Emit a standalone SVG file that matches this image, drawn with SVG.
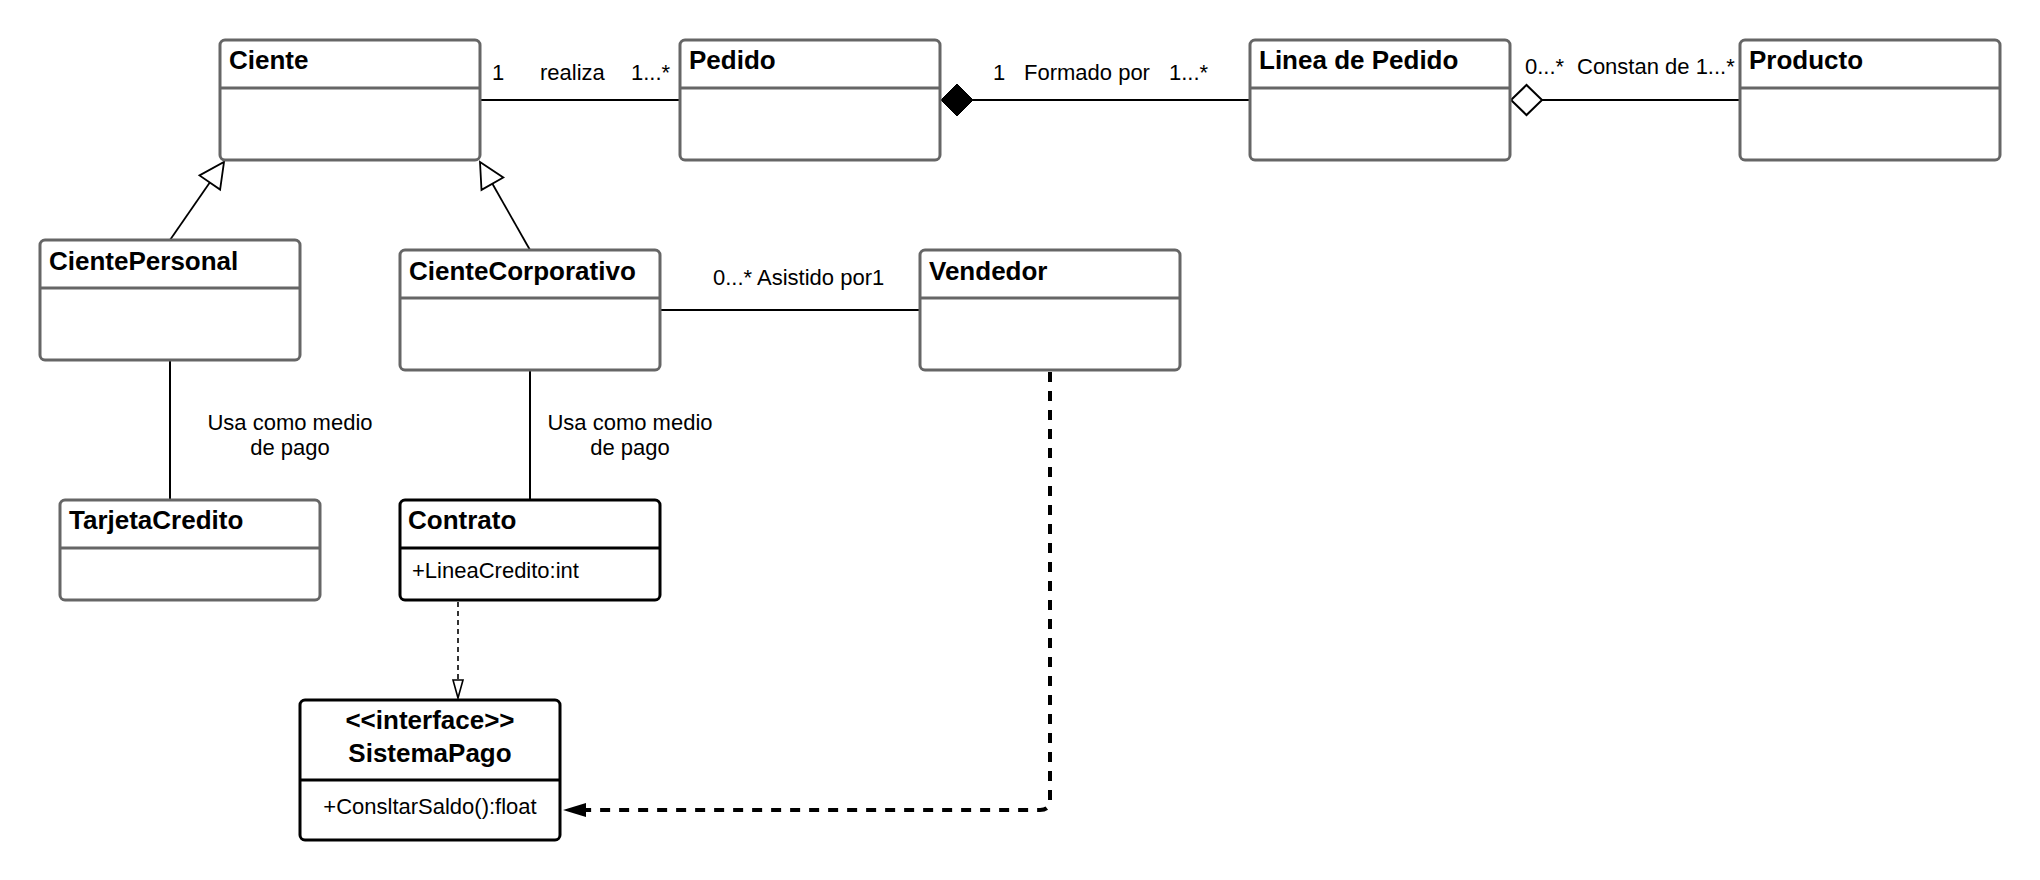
<svg xmlns="http://www.w3.org/2000/svg" width="2040" height="880" viewBox="0 0 2040 880">
<style>
  .box{fill:#ffffff;stroke:#666666;stroke-width:3}
  .div{stroke:#666666;stroke-width:3}
  .boxk{fill:#ffffff;stroke:#000000;stroke-width:3}
  .divk{stroke:#000000;stroke-width:3}
  .title{font-family:"Liberation Sans",Arial,sans-serif;font-size:26px;font-weight:bold;fill:#000}
  .lbl{font-family:"Liberation Sans",Arial,sans-serif;font-size:22px;fill:#000}
  .ln{fill:none;stroke:#000;stroke-width:2}
  .gen{fill:none;stroke:#000;stroke-width:1.8}
  .tri{fill:#fff;stroke:#000;stroke-width:1.8}
</style>
<rect width="2040" height="880" fill="#ffffff"/>

<g id="connectors">
  <!-- Ciente - Pedido -->
  <line class="ln" x1="481" y1="100" x2="679" y2="100"/>
  <text class="lbl" x="492" y="80">1</text>
  <text class="lbl" x="540" y="80">realiza</text>
  <text class="lbl" x="631" y="80">1...*</text>
  <!-- Pedido - Linea (composition) -->
  <line class="ln" x1="973" y1="100" x2="1249" y2="100"/>
  <polygon points="941,100 957,84 973,100 957,116" fill="#000" stroke="#000" stroke-width="1"/>
  <text class="lbl" x="993" y="80">1</text>
  <text class="lbl" x="1024" y="80">Formado por</text>
  <text class="lbl" x="1169" y="80">1...*</text>
  <!-- Linea - Producto (aggregation) -->
  <line class="ln" x1="1542" y1="100" x2="1739" y2="100"/>
  <polygon points="1511,100 1526.5,85 1542,100 1526.5,115" fill="#fff" stroke="#000" stroke-width="2"/>
  <text class="lbl" x="1525" y="74">0...*</text>
  <text class="lbl" x="1577" y="74">Constan de 1...*</text>
  <!-- Generalizations -->
  <line class="gen" x1="170" y1="240" x2="209.8" y2="182.5"/>
  <polygon class="tri" points="224,162 220.1,189.6 199.5,175.4"/>
  <line class="gen" x1="530" y1="250" x2="492.4" y2="183.7"/>
  <polygon class="tri" points="480,162 503.3,177.5 481.5,189.9"/>
  <!-- CienteCorporativo - Vendedor -->
  <line class="ln" x1="661" y1="310" x2="919" y2="310"/>
  <text class="lbl" x="713" y="285">0...* Asistido por1</text>
  <!-- CientePersonal - TarjetaCredito -->
  <line class="ln" x1="170" y1="360" x2="170" y2="500"/>
  <text class="lbl" x="290" y="430" text-anchor="middle">Usa como medio</text>
  <text class="lbl" x="290" y="455" text-anchor="middle">de pago</text>
  <!-- CienteCorporativo - Contrato -->
  <line class="ln" x1="530" y1="370" x2="530" y2="500"/>
  <text class="lbl" x="630" y="430" text-anchor="middle">Usa como medio</text>
  <text class="lbl" x="630" y="455" text-anchor="middle">de pago</text>
  <!-- Contrato - SistemaPago realization -->
  <line x1="458" y1="602" x2="458" y2="680" stroke="#000" stroke-width="1.6" stroke-dasharray="5 4"/>
  <polygon points="458,698 453,680 463,680" fill="#fff" stroke="#000" stroke-width="1.6"/>
  <!-- Vendedor - SistemaPago dependency -->
  <path d="M1050 372 V800 Q1050 810 1040 810 H586" fill="none" stroke="#000" stroke-width="4" stroke-dasharray="10 9"/>
  <polygon points="563,810 586,803 586,817" fill="#000"/>
</g>

<g id="ciente">
  <rect class="box" x="220" y="40" width="260" height="120" rx="5"/>
  <line class="div" x1="220" y1="88" x2="480" y2="88"/>
  <text class="title" x="229" y="69">Ciente</text>
</g>
<g id="pedido">
  <rect class="box" x="680" y="40" width="260" height="120" rx="5"/>
  <line class="div" x1="680" y1="88" x2="940" y2="88"/>
  <text class="title" x="689" y="69">Pedido</text>
</g>
<g id="linea-pedido">
  <rect class="box" x="1250" y="40" width="260" height="120" rx="5"/>
  <line class="div" x1="1250" y1="88" x2="1510" y2="88"/>
  <text class="title" x="1259" y="69">Linea de Pedido</text>
</g>
<g id="producto">
  <rect class="box" x="1740" y="40" width="260" height="120" rx="5"/>
  <line class="div" x1="1740" y1="88" x2="2000" y2="88"/>
  <text class="title" x="1749" y="69">Producto</text>
</g>
<g id="ciente-personal">
  <rect class="box" x="40" y="240" width="260" height="120" rx="5"/>
  <line class="div" x1="40" y1="288" x2="300" y2="288"/>
  <text class="title" x="49" y="270">CientePersonal</text>
</g>
<g id="ciente-corporativo">
  <rect class="box" x="400" y="250" width="260" height="120" rx="5"/>
  <line class="div" x1="400" y1="298" x2="660" y2="298"/>
  <text class="title" x="409" y="280">CienteCorporativo</text>
</g>
<g id="vendedor">
  <rect class="box" x="920" y="250" width="260" height="120" rx="5"/>
  <line class="div" x1="920" y1="298" x2="1180" y2="298"/>
  <text class="title" x="929" y="280">Vendedor</text>
</g>
<g id="tarjeta-credito">
  <rect class="box" x="60" y="500" width="260" height="100" rx="5"/>
  <line class="div" x1="60" y1="548" x2="320" y2="548"/>
  <text class="title" x="69" y="529">TarjetaCredito</text>
</g>
<g id="contrato">
  <rect class="boxk" x="400" y="500" width="260" height="100" rx="5"/>
  <line class="divk" x1="400" y1="548" x2="660" y2="548"/>
  <text class="title" x="408" y="529">Contrato</text>
  <text class="lbl" x="412" y="578">+LineaCredito:int</text>
</g>
<g id="sistema-pago">
  <rect class="boxk" x="300" y="700" width="260" height="140" rx="5"/>
  <line class="divk" x1="300" y1="780" x2="560" y2="780"/>
  <text class="title" x="430" y="729" text-anchor="middle">&lt;&lt;interface&gt;&gt;</text>
  <text class="title" x="430" y="762" text-anchor="middle">SistemaPago</text>
  <text class="lbl" x="430" y="814" text-anchor="middle">+ConsltarSaldo():float</text>
</g>
</svg>
